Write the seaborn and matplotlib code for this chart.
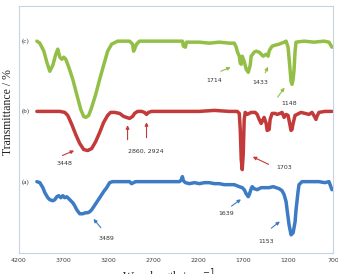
import numpy as np
import pandas as pd
import seaborn as sns
import matplotlib.pyplot as plt

# spectra (wavenumber / cm-1, stacked transmittance in arbitrary units)
wn_c = [4000, 3967, 3922, 3889, 3856, 3822, 3789, 3767, 3744, 3722, 3700, 3678, 3644, 3600,
        3556, 3511, 3478, 3456, 3422, 3389, 3344, 3300, 3256, 3211, 3167, 3100, 2967, 2933,
        2922, 2911, 2889, 2878, 2856, 2378, 2367, 2344, 2333, 2189, 2078, 1967, 1856, 1800,
        1778, 1767, 1744, 1733, 1722, 1711, 1689, 1667, 1644, 1622, 1611, 1578, 1556, 1522,
        1500, 1478, 1444, 1422, 1411, 1400, 1378, 1344, 1300, 1244, 1222, 1200, 1178, 1167,
        1156, 1144, 1133, 1122, 1111, 1022, 911, 800, 744, 711]
t_c = [211, 209, 201, 190, 181, 187, 198, 203, 195, 193, 195, 193, 185, 173,
       158, 143, 136, 135, 137, 145, 158, 173, 187, 201, 208, 211, 211, 208,
       201, 203, 208, 209, 211, 211, 206, 205, 210, 210, 209, 210, 209, 209,
       205, 201, 196, 189, 188, 196, 191, 183, 180, 187, 196, 200, 201, 200,
       198, 196, 198, 196, 201, 203, 206, 207, 208, 210, 211, 205, 183, 171,
       168, 173, 183, 201, 210, 211, 210, 211, 210, 205]

wn_b = [4000, 3856, 3744, 3689, 3656, 3611, 3567, 3522, 3478, 3433, 3389, 3344, 3300, 3256,
        3211, 3178, 3133, 3078, 3033, 3000, 2967, 2933, 2911, 2878, 2833, 2800, 2778, 2756,
        2722, 2189, 2022, 1856, 1767, 1744, 1733, 1722, 1711, 1700, 1689, 1678, 1656, 1611,
        1567, 1544, 1522, 1500, 1489, 1467, 1444, 1433, 1411, 1400, 1378, 1344, 1322, 1289,
        1267, 1244, 1222, 1200, 1178, 1167, 1156, 1144, 1122, 1100, 1056, 1011, 967, 933,
        900, 889, 878, 856, 789, 711]
t_b = [141, 141, 141, 140, 137, 128, 118, 109, 103, 102, 104, 111, 120, 130,
       137, 140, 140, 139, 136, 135, 134, 136, 139, 141, 141, 140, 138, 140,
       141, 141, 142, 141, 141, 139, 123, 93, 83, 98, 133, 140, 138, 140,
       140, 138, 133, 129, 131, 135, 129, 122, 123, 133, 139, 139, 138, 139,
       140, 135, 138, 137, 127, 122, 123, 129, 137, 138, 140, 139, 138, 140,
       135, 133, 136, 140, 141, 141]

wn_a = [4000, 3967, 3933, 3911, 3878, 3856, 3822, 3800, 3778, 3756, 3733, 3711, 3689, 3667,
        3633, 3600, 3578, 3556, 3522, 3489, 3456, 3433, 3411, 3389, 3344, 3300, 3256, 3222,
        3189, 3156, 2967, 2944, 2922, 2900, 2744, 2522, 2411, 2389, 2378, 2367, 2344, 2300,
        2244, 2189, 2133, 2078, 2022, 1967, 1911, 1856, 1800, 1744, 1711, 1689, 1667, 1644,
        1633, 1611, 1600, 1578, 1544, 1500, 1456, 1411, 1367, 1333, 1300, 1267, 1244, 1222,
        1211, 1189, 1167, 1144, 1122, 1111, 1089, 1078, 1044, 967, 856, 789, 744, 711]
t_a = [71, 70, 65, 60, 55, 53, 52, 53, 56, 57, 55, 57, 55, 56,
       53, 50, 47, 43, 39, 39, 40, 40, 41, 43, 49, 55, 61, 65,
       70, 71, 71, 69, 70, 71, 71, 71, 71, 73, 76, 72, 70, 69,
       70, 69, 70, 70, 69, 69, 68, 68, 68, 66, 65, 63, 59, 56,
       58, 64, 66, 64, 63, 65, 65, 65, 66, 65, 64, 62, 58, 51,
       43, 28, 18, 20, 31, 43, 61, 68, 71, 71, 71, 70, 71, 63]

series = ['(a)', '(b)', '(c)']
colors = ['#3d7cc4', '#c23b3a', '#93bf46']

# peak labels: text, text position, arrow tail, arrow head
peaks_c = [('1714', (2022, 172), (1978, 180), (1811, 186)),
           ('1433', (1511, 170), (1467, 177), (1411, 188)),
           ('1148', (1189, 149), (1333, 153), (1222, 167))]
peaks_b = [('3448', (3689, 89), (3744, 96), (3556, 103)),
           ('1703', (1244, 85), (1389, 87), (1622, 97))]
peaks_a = [('3489', (3222, 14), (3267, 23), (3389, 36)),
           ('1639', (1889, 39), (1856, 45), (1700, 55)),
           ('1153', (1444, 11), (1411, 23), (1267, 33))]
double_b = ('2860, 2924', (2789, 101), [((2989, 110), (2989, 130)), ((2778, 112), (2778, 133))])

df = pd.concat([
    pd.DataFrame({'wn': wn_a, 't': t_a, 's': '(a)'}),
    pd.DataFrame({'wn': wn_b, 't': t_b, 's': '(b)'}),
    pd.DataFrame({'wn': wn_c, 't': t_c, 's': '(c)'}),
])

sns.set_style('white')
fig = plt.figure(figsize=(3.38, 2.74), dpi=100)
ax = fig.add_axes([0.056, 0.077, 0.929, 0.901])

sns.lineplot(data=df, x='wn', y='t', hue='s', palette=dict(zip(series, colors)),
             lw=2.5, legend=False, ax=ax, estimator=None, sort=False)

ax.set_xlim(4200, 700)
ax.set_ylim(0, 246)
ax.set_xticks([4200, 3700, 3200, 2700, 2200, 1700, 1200, 700])
ax.set_yticks([])
ax.tick_params(axis='x', labelsize=4.5, labelcolor='#404040', length=0, pad=4)
ax.set_xlabel('')
ax.set_ylabel('')
for sp in ax.spines.values():
    sp.set_color('#c5d3e3')
    sp.set_linewidth(0.8)

serif = 'Liberation Serif'
fig.text(169 / 338, 1 - 267 / 274, 'Wavelength / cm$^{-1}$', family=serif, fontsize=8.5,
         ha='center', va='top', color='#222222')
fig.text(8 / 338, 1 - 112 / 274, 'Transmittance / %', family=serif, fontsize=8.5,
         ha='center', va='center', rotation=90, color='#222222')

for s, base in zip(series, [71, 141, 211]):
    ax.text(4125, base, s, family=serif, fontsize=5, ha='center', va='center', color='#333333')

def annotate(items, color):
    for txt, tpos, tail, head in items:
        ax.text(*tpos, txt, fontsize=4.5, ha='center', va='center', color='#333333')
        ax.annotate('', xy=head, xytext=tail,
                    arrowprops=dict(arrowstyle='-|>', color=color, lw=0.8, mutation_scale=5))

annotate(peaks_a, colors[0])
annotate(peaks_b, colors[1])
annotate(peaks_c, colors[2])
txt, tpos, arrows = double_b
ax.text(*tpos, txt, fontsize=4.5, ha='center', va='center', color='#333333')
for tail, head in arrows:
    ax.annotate('', xy=head, xytext=tail,
                arrowprops=dict(arrowstyle='-|>', color=colors[1], lw=0.8, mutation_scale=5))

fig.savefig('out.png', dpi=100)
